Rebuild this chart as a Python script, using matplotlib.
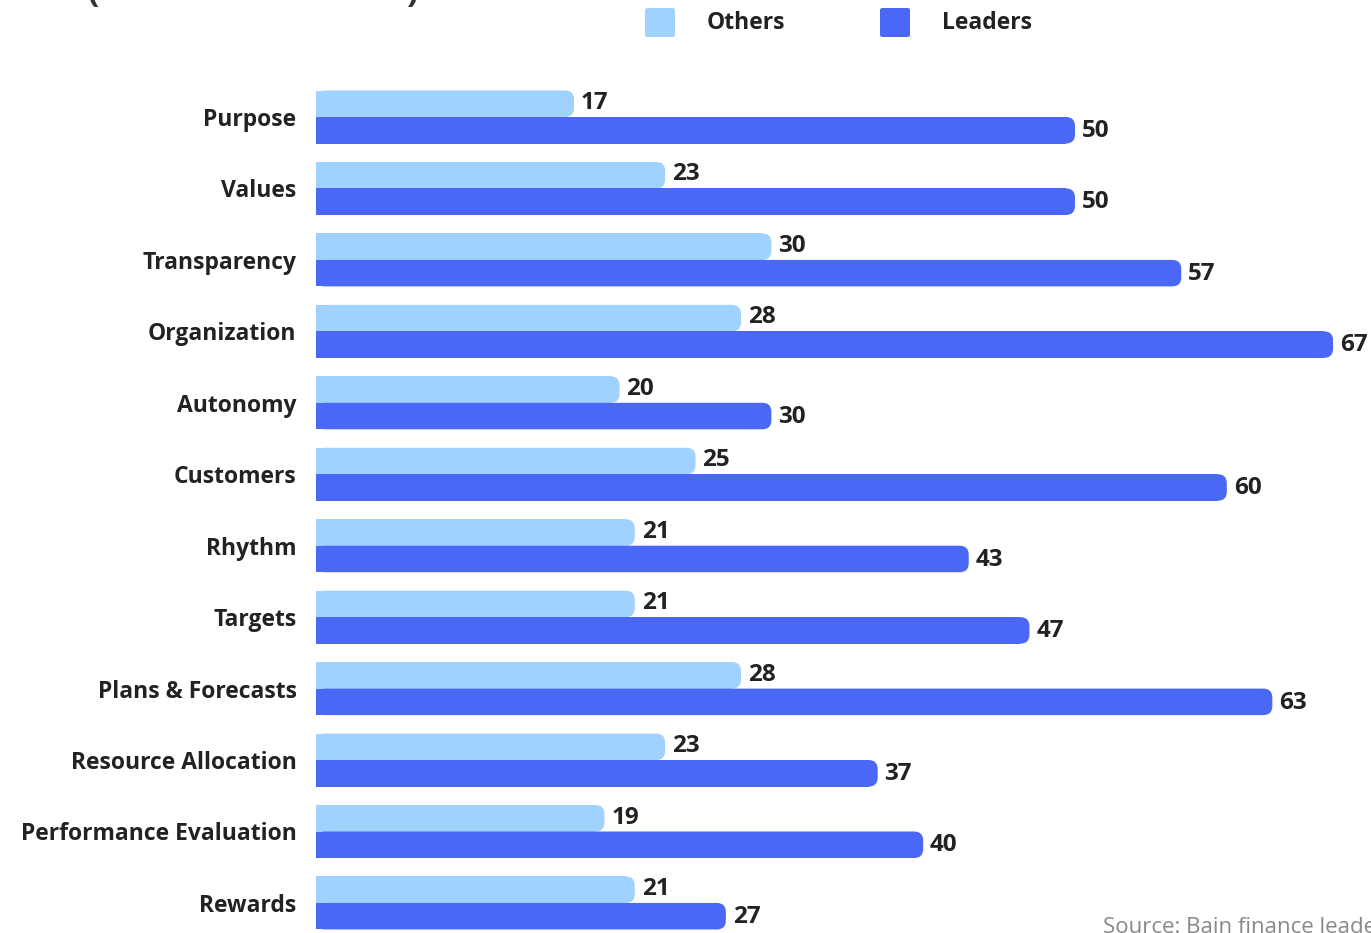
import matplotlib
matplotlib.use("Agg")
import matplotlib.pyplot as plt
from matplotlib.patches import FancyBboxPatch, Rectangle

# Data
categories = ["Purpose", "Values", "Transparency", "Organization", "Autonomy",
              "Customers", "Rhythm", "Targets", "Plans & Forecasts",
              "Resource Allocation", "Performance Evaluation", "Rewards"]
others = [17, 23, 30, 28, 20, 25, 21, 21, 28, 23, 19, 21]
leaders = [50, 50, 57, 67, 30, 60, 43, 47, 63, 37, 40, 27]

c_others = "#A0D2FF"
c_leaders = "#4A68F5"
c_text = "#222222"

plt.rcParams["font.family"] = ["Open Sans", "DejaVu Sans"]

W, H = 1371, 933
fig = plt.figure(figsize=(W / 100, H / 100), dpi=100)
ax = fig.add_axes([316 / W, 0, (W - 316) / W, 1])

px_x = 15.18          # pixels per unit on x
pitch = 71.45         # pixels per row
xmax = (W - 316) / px_x
ax.set_xlim(0, xmax)
ax.set_ylim((H - 117) / pitch, -117 / pitch)

bar_h = 26.5 / pitch
r = 9.0 / px_x
aspect = (9.0 / pitch) / r


def rounded_bar(y0, val, color):
    p = FancyBboxPatch((0, y0), val, bar_h,
                       boxstyle=f"round,pad=0,rounding_size={r}",
                       mutation_aspect=aspect, fc=color, ec="none")
    ax.add_patch(p)
    ax.add_patch(Rectangle((0, y0), val - r, bar_h, fc=color, ec="none"))


for i, (o, l) in enumerate(zip(others, leaders)):
    rounded_bar(i - bar_h, o, c_others)
    rounded_bar(i, l, c_leaders)
    ax.text(o + 0.45, i - bar_h / 2 - 0.01, str(o), ha="left", va="center",
            fontsize=17.5, fontweight="bold", color=c_text)
    ax.text(l + 0.45, i + bar_h / 2 + 0.01, str(l), ha="left", va="center",
            fontsize=17.5, fontweight="bold", color=c_text)

ax.set_yticks(range(len(categories)))
ax.set_yticklabels(categories, fontsize=16.5, fontweight="bold", color=c_text)
ax.tick_params(axis="y", length=0, pad=14)
ax.set_xticks([])
for s in ax.spines.values():
    s.set_visible(False)

# legend drawn by hand at the top
for x0, label, col in [(645, "Others", c_others), (880, "Leaders", c_leaders)]:
    fig.patches.append(FancyBboxPatch((x0 / W, 1 - 37 / H), 30 / W, 29 / H,
                                      boxstyle="round,pad=0,rounding_size=0.002",
                                      fc=col, ec="none", transform=fig.transFigure))
    fig.text((x0 + 62) / W, 1 - 23 / H, label, ha="left", va="center",
             fontsize=16.5, fontweight="bold", color=c_text)

# cut-off title and source text
fig.text(88 / W, 1 - 2 / H, "(", fontsize=24, fontweight="bold", color="#333333",
         va="baseline")
fig.text(406 / W, 1 - 2 / H, ")", fontsize=24, fontweight="bold", color="#333333",
         va="baseline")
fig.text(1103 / W, 1 - 917 / H, "Source: Bain finance leaders survey",
         fontsize=16, color="#888888", va="top", ha="left")

fig.savefig("out.png", dpi=100)
